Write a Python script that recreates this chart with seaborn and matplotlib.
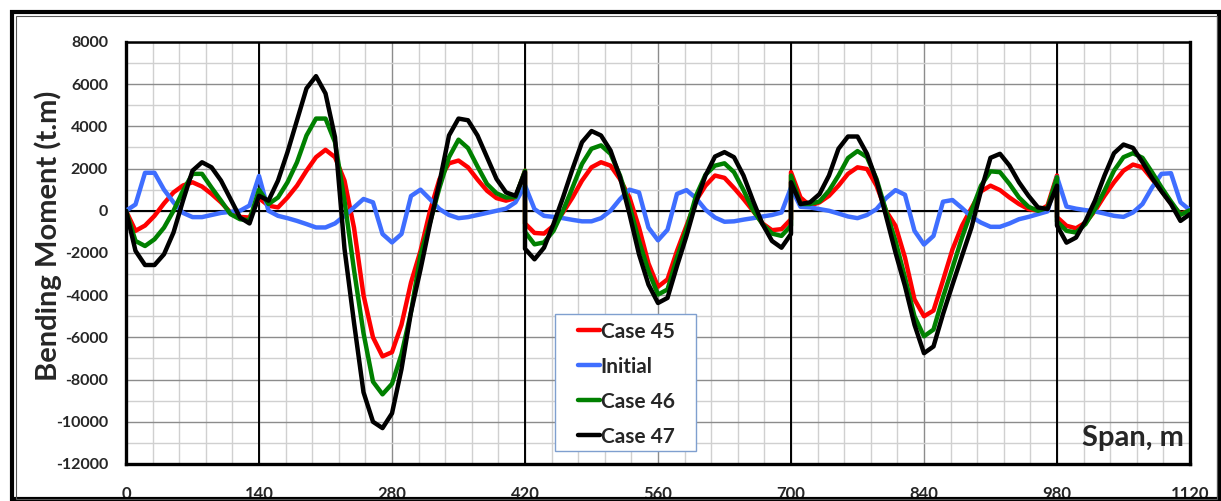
import numpy as np
import pandas as pd
import matplotlib
matplotlib.use("Agg")
import matplotlib.pyplot as plt
from matplotlib.lines import Line2D
from matplotlib.patches import Rectangle
import seaborn as sns

# span stations (m); supports at 420, 700 and 980 appear twice (end / start of span)
span_m = (list(range(0, 430, 10)) + list(range(420, 710, 10))
          + list(range(700, 990, 10)) + list(range(980, 1130, 10)))

# bending moment (t.m)
case45 = [
    0, -950, -700, -240, 350, 870, 1200, 1350, 1150, 800, 400, -80, -290, -320, 600,
    240, 160, 630, 1190, 1900, 2540, 2890, 2540, 1430, -800, -4000, -6000, -6900, -6700,
    -5400, -3400, -1900, 0, 1500, 2250, 2380, 2060, 1480, 950, 600, 480, 600, 1900,
    -600, -1050, -1080, -710, -80, 630, 1430, 2060, 2300, 2140, 1500, 630, -790, -2500,
    -3600, -3250, -1900, -710, 480, 1190, 1670, 1560, 1080, 560, 0, -600, -920, -870, -400,
    1830, 630, 240, 400, 710, 1190, 1750, 2060, 1980, 1190, 0, -710, -2220, -4200,
    -5000, -4730, -3300, -1830, -710, 130, 920, 1190, 980, 630, 320, 80, 0, 240, 1670,
    -300, -710, -830, -560, 0, 710, 1350, 1900, 2190, 2060, 1510, 950, 350, -160, 30]

initial = [
    0, 300, 1800, 1800, 1000, 400, -100, -300, -300, -200, -100, -50, 0, 250, 1650,
    0, -240, -350, -480, -630, -790, -790, -600, -240, 160, 560, 400, -1100, -1500,
    -1100, 700, 1000, 550, 80, -200, -350, -300, -200, -100, 0, 100, 400, 1200,
    1200, 80, -240, -290, -350, -430, -500, -500, -350, 0, 550, 1000, 870, -800,
    -1400, -900, 800, 980, 600, 50, -320, -520, -500, -420, -350, -270, -200, -80, 1100,
    1100, 190, 160, 80, 0, -130, -270, -350, -200, 80, 600, 980, 760, -950,
    -1600, -1190, 430, 510, 130, -290, -560, -760, -760, -600, -400, -290, -160, -30, 1600,
    1600, 200, 100, 30, -30, -130, -240, -290, -80, 320, 1100, 1750, 1780, 400, 30]

case46 = [
    0, -1430, -1670, -1350, -800, 0, 950, 1750, 1750, 1100, 480, -160, -400, -450, 1000,
    320, 630, 1350, 2300, 3570, 4370, 4370, 3250, 480, -2800, -5800, -8100, -8700, -8200,
    -6800, -4800, -2100, -550, 1100, 2540, 3370, 2970, 2100, 1270, 830, 630, 650, 1900,
    -1000, -1590, -1500, -950, 0, 1100, 2220, 2940, 3100, 2700, 1670, 240, -1430, -2860,
    -3970, -3730, -2220, -870, 710, 1710, 2140, 2250, 1830, 980, 30, -630, -1080, -1190, -700,
    1670, 320, 320, 440, 950, 1670, 2500, 2830, 2540, 1510, 0, -1430, -3170, -5000,
    -5950, -5630, -4100, -2700, -1270, 0, 1190, 1870, 1830, 1270, 630, 190, 0, 130, 1590,
    -500, -950, -1030, -630, 80, 950, 1900, 2540, 2730, 2510, 1830, 1110, 440, -190, 30]

case47 = [
    0, -1900, -2570, -2570, -2060, -1030, 480, 1900, 2300, 2060, 1430, 560, -320, -600, 710,
    480, 1430, 2780, 4290, 5800, 6380, 5560, 3490, -1800, -5300, -8600, -10000, -10300, -9600,
    -7500, -4800, -2780, -630, 1350, 3570, 4370, 4290, 3570, 2540, 1510, 870, 710, 1830,
    -1800, -2300, -1750, -630, 630, 1980, 3250, 3780, 3570, 2860, 1590, -160, -2060, -3500,
    -4370, -4130, -2620, -1190, 400, 1670, 2570, 2780, 2540, 1670, 480, -630, -1430, -1750, -1100,
    1350, 320, 400, 790, 1670, 2940, 3520, 3520, 2700, 1430, -240, -1980, -3570, -5400,
    -6750, -6430, -4900, -3500, -2140, -790, 950, 2510, 2700, 2140, 1350, 710, 160, 80, 1190,
    -700, -1510, -1270, -480, 480, 1670, 2730, 3140, 2980, 2300, 1560, 920, 320, -480, -160]

series_names = ["Case 45", "Initial", "Case 46", "Case 47"]
colors = {"Case 45": "#FF0000", "Initial": "#3F6EFF",
          "Case 46": "#008000", "Case 47": "#000000"}

x_ticks = [0, 140, 280, 420, 560, 700, 840, 980, 1120]
y_ticks = [-12000, -10000, -8000, -6000, -4000, -2000, 0, 2000, 4000, 6000, 8000]
supports = [140, 420, 700, 980]

frames = []
for name, vals in zip(series_names, [case45, initial, case46, case47]):
    frames.append(pd.DataFrame({"span": span_m, "moment": vals, "series": name}))
df = pd.concat(frames, ignore_index=True)

sns.set_style("white")
plt.rcParams["font.family"] = ["Lato", "DejaVu Sans"]
plt.rcParams["font.weight"] = "bold"
plt.rcParams["axes.unicode_minus"] = False

fig = plt.figure(figsize=(12.21, 5.01), dpi=100)
ax = fig.add_axes([0.1032, 0.0739, 0.8714, 0.8423])

# grid
ax.set_xticks(np.arange(0, 1121, 28), minor=True)
ax.set_yticks(np.arange(-12000, 8001, 1000), minor=True)
ax.grid(which="minor", color="#D0D0D0", linewidth=1.0, zorder=0)
ax.grid(which="major", color="#8C8C8C", linewidth=1.0, zorder=0)
for s in supports:
    ax.axvline(s, color="black", linewidth=1.4, zorder=1)
ax.axhline(0, color="black", linewidth=1.5, zorder=1)

sns.lineplot(data=df, x="span", y="moment", hue="series", hue_order=series_names,
             palette=colors, estimator=None, sort=False, linewidth=3.2,
             legend=False, ax=ax, zorder=3)

ax.set_xlim(0, 1120)
ax.set_ylim(-12000, 8000)
ax.set_xticks(x_ticks)
ax.set_xticklabels([str(v) for v in x_ticks], fontsize=12, fontweight="bold")
ax.set_yticks(y_ticks)
ax.set_yticklabels([str(v) for v in y_ticks], fontsize=11.5, fontweight="bold")
ax.tick_params(axis="x", which="major", length=5, width=2, direction="out", pad=11, color="black")
ax.tick_params(axis="y", which="major", length=3, width=1.5, direction="out", pad=10, color="black")
ax.tick_params(which="minor", length=0)

for side in ["left", "bottom", "right"]:
    ax.spines[side].set_linewidth(2.4)
    ax.spines[side].set_color("black")
ax.spines["top"].set_linewidth(1.8)
ax.spines["top"].set_color("black")

ax.set_xlabel("")
ax.set_ylabel("Bending Moment (t.m)", fontsize=21, fontweight="bold")
ax.yaxis.set_label_coords(-0.06, 0.54)
ax.text(0.994, 0.03, "Span, m", transform=ax.transAxes, ha="right", va="bottom",
        fontsize=21, fontweight="bold", zorder=5)

# legend box drawn separately so its size matches the original
ax.add_patch(Rectangle((0.403, 0.031), 0.1325, 0.325, transform=ax.transAxes,
                       facecolor="white", edgecolor="#7F9FCF", linewidth=1.0, zorder=6))
handles = [Line2D([0], [0], color=colors[n], linewidth=3.2) for n in series_names]
leg = ax.legend(handles, series_names, loc="upper left", bbox_to_anchor=(0.4245, 0.337),
                frameon=False, prop={"weight": "bold", "size": 15}, handlelength=1.05,
                handletextpad=0.05, labelspacing=0.72, borderpad=0, borderaxespad=0)
leg.set_zorder(7)

# outer chart frame
fig.add_artist(Rectangle((12 / 1221, 2 / 501), 1207 / 1221, 487 / 501,
                         transform=fig.transFigure, fill=False,
                         edgecolor="black", linewidth=3))
fig.add_artist(Rectangle((16 / 1221, 2 / 501), 1201 / 1221, 483 / 501,
                         transform=fig.transFigure, fill=False,
                         edgecolor="#555555", linewidth=0.8))

fig.savefig("out.png", dpi=100, facecolor="white")
